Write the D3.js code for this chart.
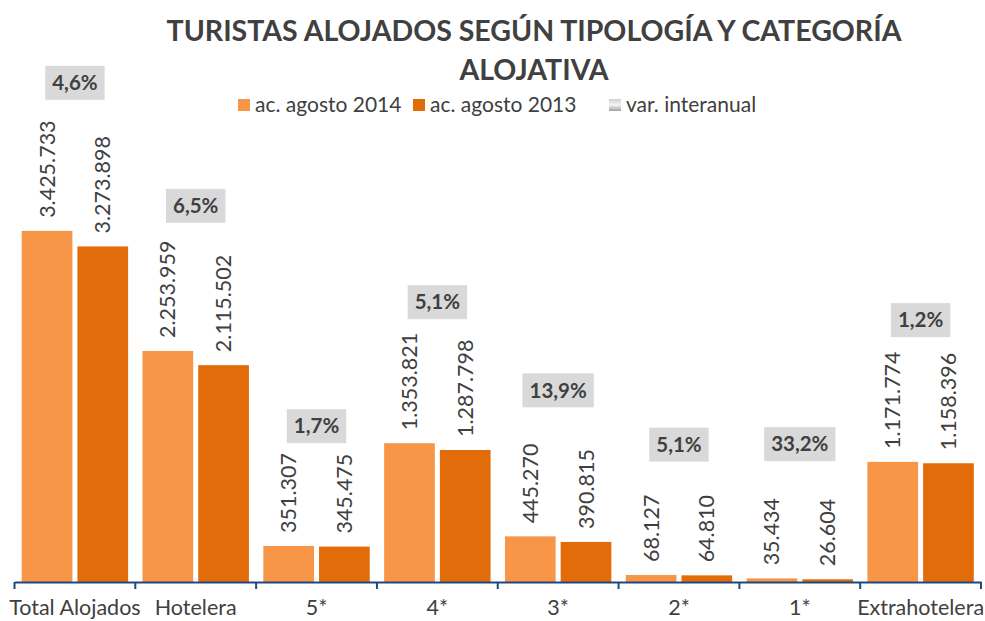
<!DOCTYPE html>
<html><head><meta charset="utf-8">
<script src="https://cdn.jsdelivr.net/npm/d3@7"></script>
<style>
body{margin:0;background:#fff;}
text{font-family:Lato,"Open Sans",sans-serif;fill:#404040;}
</style></head>
<body><svg id="c" width="985" height="621"></svg>
<script>
const categories = ["Total Alojados","Hotelera","5*","4*","3*","2*","1*","Extrahotelera"];
const seriesNames = ["ac. agosto 2014","ac. agosto 2013","var. interanual"];
const values2014 = [3425733,2253959,351307,1353821,445270,68127,35434,1171774];
const values2013 = [3273898,2115502,345475,1287798,390815,64810,26604,1158396];
const varInteranual = ["4,6%","6,5%","1,7%","5,1%","13,9%","5,1%","33,2%","1,2%"];
// hidden-series level (in value units) at which each var. label is anchored
const varLabelLevel = [4870000,3670000,1520000,2730000,1870000,1340000,1345000,2555000];

const svg = d3.select("#c");
const colors = ["#F79646","#E36C0A"];
const x0 = d3.scaleBand().domain(categories).range([14.5,981]);
const bw = x0.bandwidth();
const x1 = d3.scaleBand().domain([0,1]).range([7.2,bw-7.2]).paddingInner(0.09);
const y = d3.scaleLinear().domain([0,4000000]).range([582,172]);
const fmt = v => d3.format(",")(v).replace(/,/g,".");

// title
const title = svg.append("text").attr("x",534).attr("text-anchor","middle")
  .style("font-weight","bold").style("font-size","28.5px");
title.append("tspan").attr("x",534).attr("y",41).text("TURISTAS ALOJADOS SEGÚN TIPOLOGÍA Y CATEGORÍA");
title.append("tspan").attr("x",534).attr("y",80).text("ALOJATIVA");

// legend
const defs = svg.append("defs");
const gr = defs.append("linearGradient").attr("id","gg").attr("x1",0).attr("y1",0).attr("x2",0).attr("y2",1);
gr.append("stop").attr("offset","0%").attr("stop-color","#d0d0d0");
gr.append("stop").attr("offset","50%").attr("stop-color","#f4f4f4");
gr.append("stop").attr("offset","100%").attr("stop-color","#a0a0a0");
const legendX = [238,413,609];
const lg = svg.append("g");
seriesNames.forEach((n,i)=>{
  lg.append("rect").attr("x",legendX[i]).attr("y",99).attr("width",12).attr("height",12)
    .attr("fill", i<2?colors[i]:"url(#gg)");
  lg.append("text").attr("x",legendX[i]+17).attr("y",105).attr("dy","0.35em")
    .style("font-size","21px").text(n);
});

const data = categories.map((c,i)=>({c, vals:[values2014[i],values2013[i]], v:varInteranual[i], lvl:varLabelLevel[i]}));
const g = svg.append("g");
const grp = g.selectAll("g.grp").data(data).join("g").attr("transform",d=>`translate(${x0(d.c)},0)`);
grp.selectAll("rect").data(d=>d.vals.map((v,k)=>({v,k}))).join("rect")
  .attr("x",d=>x1(d.k)).attr("width",x1.bandwidth())
  .attr("y",d=>y(d.v)).attr("height",d=>y(0)-y(d.v))
  .attr("fill",d=>colors[d.k]);
grp.selectAll("text.val").data(d=>d.vals.map((v,k)=>({v,k}))).join("text").attr("class","val")
  .attr("transform",d=>`translate(${x1(d.k)+x1.bandwidth()/2},${y(d.v)-13}) rotate(-90)`)
  .attr("dy","0.35em").style("font-size","21.5px").text(d=>fmt(d.v));

// var labels
grp.each(function(d){
  const gg = d3.select(this);
  const t = gg.append("text").attr("x",bw/2).attr("y",y(d.lvl)).attr("dy","0.35em")
    .attr("text-anchor","middle").style("font-size","20.5px").style("font-weight","bold").text(d.v);
  const w = t.node().getComputedTextLength();
  gg.insert("rect","text.var").attr("x",bw/2-w/2-7).attr("y",y(d.lvl)-17).attr("width",w+14).attr("height",34)
    .attr("fill","#D9D9D9");
  t.raise();
});

// axis
const ax = svg.append("g").attr("transform","translate(0,582)")
  .call(d3.axisBottom(x0).tickSize(0).tickFormat(()=>""));
ax.select(".domain").attr("stroke","#1F497D").attr("stroke-width",2);
const tickPos = categories.map(c=>x0(c)).concat([x0.range()[1]]);
svg.append("g").selectAll("line").data(tickPos).join("line")
  .attr("x1",d=>d).attr("x2",d=>d).attr("y1",582).attr("y2",589)
  .attr("stroke","#1F497D").attr("stroke-width",2);
svg.append("g").selectAll("text").data(categories).join("text")
  .attr("x",d=>x0(d)+bw/2).attr("y",615).attr("text-anchor","middle")
  .style("font-size","21.5px").text(d=>d);
</script></body></html>
